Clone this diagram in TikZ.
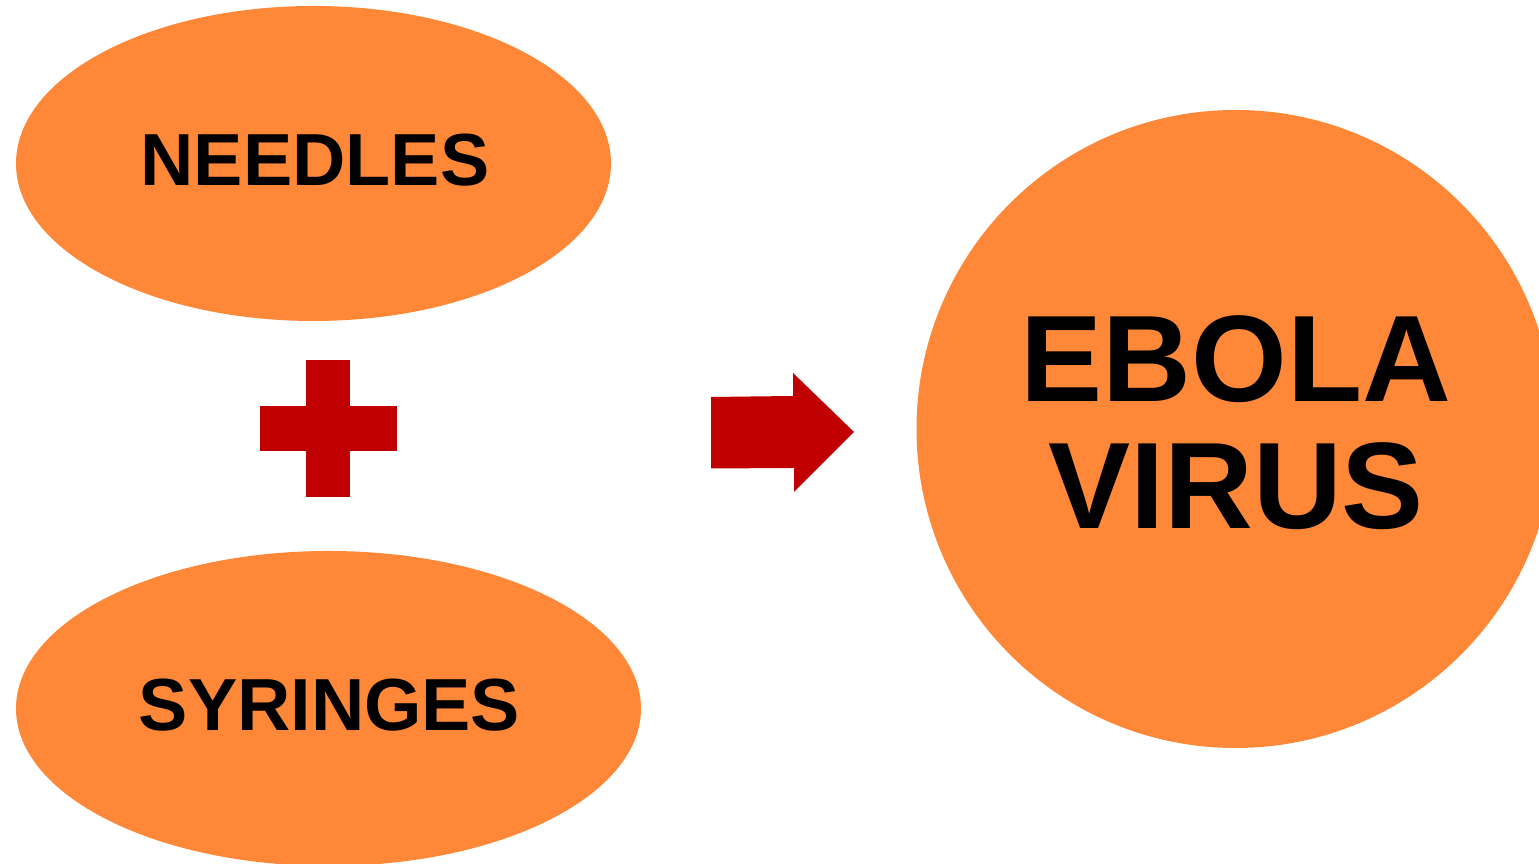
\documentclass[tikz,border=0pt]{standalone}
\usepackage{fontspec}
\setmainfont{Liberation Sans}
\usetikzlibrary{shapes.geometric}
\definecolor{blobfill}{HTML}{FF8838}
\definecolor{signred}{HTML}{C00000}
\tikzset{
  blob/.style={ellipse, fill=blobfill, draw=none, inner sep=0pt},
  bigblob/.style={circle, fill=blobfill, draw=none, inner sep=0pt, minimum size=6.38cm},
  smalllabel/.style={font=\fontsize{21pt}{25pt}\selectfont\bfseries, text=black, inner sep=0pt},
  biglabel/.style={font=\fontsize{35pt}{36.1pt}\selectfont\bfseries, text=black, inner sep=0pt, align=center},
  signshape/.style={fill=signred, draw=none}
}
\begin{document}
\begin{tikzpicture}
\useasboundingbox (0,0) rectangle (15.39,8.64);
\clip (0,0) rectangle (15.39,8.64);
% ellipses and circle
\node[blob, minimum width=5.95cm, minimum height=3.15cm] (needles) at (3.135,7.005) {};
\node[blob, minimum width=6.25cm, minimum height=3.15cm] (syringes) at (3.285,1.555) {};
\node[bigblob] (ebola) at (12.355,4.35) {};
% labels
\node[smalllabel, anchor=base] (needlestext) at (3.15,6.78) {NEEDLES};
\node[smalllabel, anchor=base] (syringestext) at (3.295,1.33) {SYRINGES};
\node[biglabel, anchor=center] (ebolatext) at (12.36,4.415) {EBOLA\\VIRUS};
% plus sign
\fill[signshape] (3.06,3.67) rectangle (3.50,5.04);
\fill[signshape] (2.60,4.13) rectangle (3.97,4.58);
% block arrow
\fill[signshape] (7.11,4.67) -- (7.93,4.68) -- (7.93,4.91) -- (8.54,4.32) -- (7.94,3.72) -- (7.94,3.96) -- (7.11,3.955) -- cycle;
\end{tikzpicture}
\end{document}
